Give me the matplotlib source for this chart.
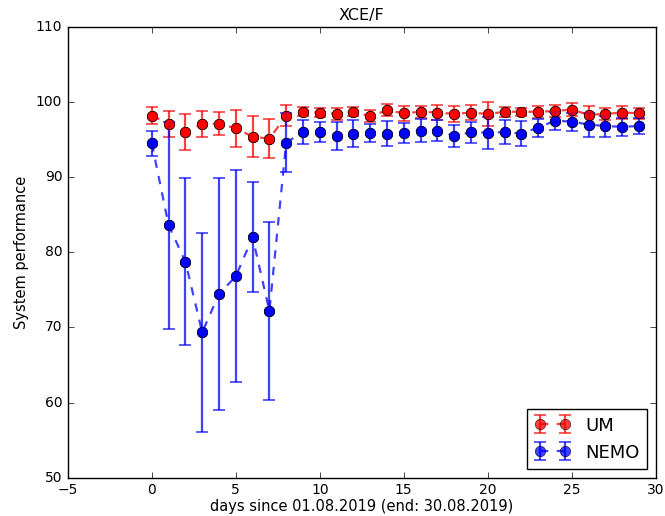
import numpy as np
import matplotlib
matplotlib.use("Agg")
import matplotlib.pyplot as plt

plt.style.use('classic')

days = np.arange(30)

um_mean = [98.2, 97.1, 96.0, 97.1, 97.1, 96.5, 95.4, 95.1, 98.2, 98.7,
           98.6, 98.4, 98.7, 98.1, 98.9, 98.5, 98.7, 98.6, 98.4, 98.6,
           98.4, 98.7, 98.7, 98.7, 98.8, 99.0, 98.3, 98.4, 98.6, 98.5]
um_err = [1.15, 1.75, 2.4, 1.7, 1.55, 2.5, 2.7, 2.6, 1.45, 0.6,
          0.6, 0.8, 0.6, 0.8, 0.8, 1.0, 0.8, 1.0, 1.1, 1.0,
          1.6, 0.7, 0.5, 0.8, 0.8, 0.8, 1.2, 0.8, 0.9, 0.7]

nemo_mean = [94.5, 83.6, 78.75, 69.35, 74.45, 76.8, 82.0, 72.2, 94.6, 96.0,
             96.0, 95.5, 95.8, 95.9, 95.8, 95.9, 96.2, 96.2, 95.5, 96.0,
             95.9, 96.0, 95.8, 96.6, 97.5, 97.4, 97.0, 96.8, 96.7, 96.8]
nemo_err = [1.7, 13.8, 11.1, 13.25, 15.4, 14.1, 7.3, 11.8, 3.9, 1.55,
            1.3, 1.9, 1.8, 1.2, 1.7, 1.3, 1.5, 1.4, 1.5, 1.4,
            2.1, 1.6, 1.7, 1.2, 1.2, 1.2, 1.6, 1.4, 1.2, 1.1]

fig = plt.figure(figsize=(6.65, 5.16), dpi=100, facecolor='white')
ax = fig.add_axes([0.102, 0.074, 0.884, 0.874])

# errorbars (faded) with dashed connecting line
ax.errorbar(days, um_mean, yerr=um_err, fmt='o--', color='red', ecolor='red',
            markeredgecolor='black', markersize=7.5, capsize=4, elinewidth=1.6,
            capthick=1.2, linewidth=1.6, alpha=0.75, label='UM')
ax.plot(days, um_mean, 'o', color='red', markeredgecolor='black', markersize=7.5)
ax.errorbar(days, nemo_mean, yerr=nemo_err, fmt='o--', color='blue', ecolor='blue',
            markeredgecolor='black', markersize=7.5, capsize=4, elinewidth=1.6,
            capthick=1.2, linewidth=1.6, alpha=0.75, label='NEMO')
ax.plot(days, nemo_mean, 'o', color='blue', markeredgecolor='black', markersize=7.5)

ax.set_xlim(-5, 30)
ax.set_ylim(50, 110)
ax.set_title('XCE/F', fontsize=11.5)
ax.set_xlabel('days since 01.08.2019 (end: 30.08.2019)', fontsize=10.5, labelpad=1)
ax.set_ylabel('System performance', fontsize=10.5)
ax.tick_params(labelsize=10)

leg = ax.legend(loc='lower right', numpoints=2, fontsize=13, fancybox=False)

fig.savefig('out.png', dpi=100, facecolor='white')
